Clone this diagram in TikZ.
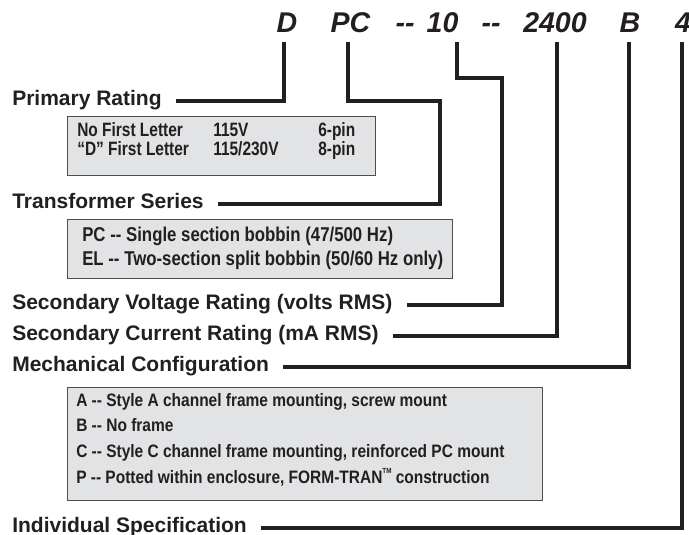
\documentclass[tikz,border=0pt]{standalone}
\usepackage{fontspec}
\setmainfont{Liberation Sans}
\newfontfamily\boxfont{Liberation Sans}[FakeStretch=0.86]
\newfontfamily\boxfontN{Liberation Sans}[FakeStretch=0.80]
\newfontfamily\boxfontM{Liberation Sans}[FakeStretch=0.84]
\definecolor{ink}{HTML}{231F20}
\definecolor{boxfill}{HTML}{E2E3E5}
\definecolor{boxline}{HTML}{4D4D4D}
\tikzset{
  conn/.style={draw=ink, line width=3.2pt, line join=miter},
  lab/.style={font=\bfseries\fontsize{15.75}{18}\selectfont, text=ink, inner sep=0pt, anchor=west, text height=11pt, text depth=5pt},
  tit/.style={font=\bfseries\itshape\fontsize{21.4}{24}\selectfont, text=ink, inner sep=0pt, anchor=base},
  panel/.style={draw=boxline, fill=boxfill, line width=1pt, inner sep=0pt, anchor=north west},
  btxt/.style={font=\boxfont\bfseries\fontsize{13.5}{16}\selectfont, text=ink, inner sep=0pt, anchor=base west},
  btxtN/.style={btxt, font=\boxfontN\bfseries\fontsize{14.5}{17}\selectfont},
  btxtL/.style={btxt, font=\boxfontM\bfseries\fontsize{15}{18}\selectfont},
}
\begin{document}
\begin{tikzpicture}[x=0.75pt, y=-0.75pt]
\useasboundingbox (0,0) rectangle (689,535);
% title
\node[tit] (tD) at (287,33) {D};
\node[tit] (tPC) at (350.5,33) {PC};
\node[tit] (tda) at (405,33) {-{}-};
\node[tit] (t10) at (442.5,33) {10};
\node[tit] (tdb) at (491,33) {-{}-};
\node[tit] (t2400) at (555,33) {2400};
\node[tit] (tB) at (630,33) {B};
\node[tit] (t4) at (683,33) {4};
% labels
\node[lab] (lprim) at (12,101) {Primary Rating};
\node[lab] (ltrans) at (12,204) {Transformer Series};
\node[lab] (lvolt) at (12,305) {Secondary Voltage Rating (volts RMS)};
\node[lab] (lcurr) at (12,336) {Secondary Current Rating (mA RMS)};
\node[lab] (lmech) at (12,367) {Mechanical Configuration};
\node[lab] (lind) at (12,528) {Individual Specification};
% panels
\node[panel, minimum width=231pt, minimum height=44.25pt] (p1) at (67,116) {};
\node[btxtN] (p1a) at (77,137) {No First Letter};
\node[btxtN] (p1b) at (213,137) {115V};
\node[btxtN] (p1c) at (318,137) {6-pin};
\node[btxtN] (p1d) at (77,155) {“D” First Letter};
\node[btxtN] (p1e) at (213,155) {115/230V};
\node[btxtN] (p1f) at (318,155) {8-pin};
\node[panel, minimum width=288.75pt, minimum height=44.25pt] (p2) at (67,219) {};
\node[btxtL] (p2a) at (82,241.5) {PC -{}- Single section bobbin (47/500 Hz)};
\node[btxtL] (p2b) at (82,265) {EL -{}- Two-section split bobbin (50/60 Hz only)};
\node[panel, minimum width=356.25pt, minimum height=84.75pt] (p3) at (67,387) {};
\node[btxt] (p3a) at (76,406) {A -{}- Style A channel frame mounting, screw mount};
\node[btxt] (p3b) at (76,431.5) {B -{}- No frame};
\node[btxt] (p3c) at (76,457.5) {C -{}- Style C channel frame mounting, reinforced PC mount};
\node[btxt] (p3d) at (76,483) {P -{}- Potted within enclosure, FORM-TRAN\raisebox{1.05ex}{\fontsize{5.5}{6}\selectfont TM} construction};
% connectors
\coordinate (kD) at (284,42);
\coordinate (kPC) at (348,42);
\coordinate (bPC) at (440,101);
\coordinate (k10) at (457,42);
\coordinate (b10) at (502,78);
\coordinate (k2400) at (557,42);
\coordinate (kB) at (629,42);
\coordinate (k4) at (682,42);
\draw[conn] (kD) |- ([xshift=10.5pt]lprim.east);
\draw[conn] (kPC) |- (bPC) |- ([xshift=10.5pt]ltrans.east);
\draw[conn] (k10) |- (b10) |- ([xshift=10.5pt]lvolt.east);
\draw[conn] (k2400) |- ([xshift=10.5pt]lcurr.east);
\draw[conn] (kB) |- ([xshift=10.5pt]lmech.east);
\draw[conn] (k4) |- ([xshift=10.5pt]lind.east);
\end{tikzpicture}
\end{document}
